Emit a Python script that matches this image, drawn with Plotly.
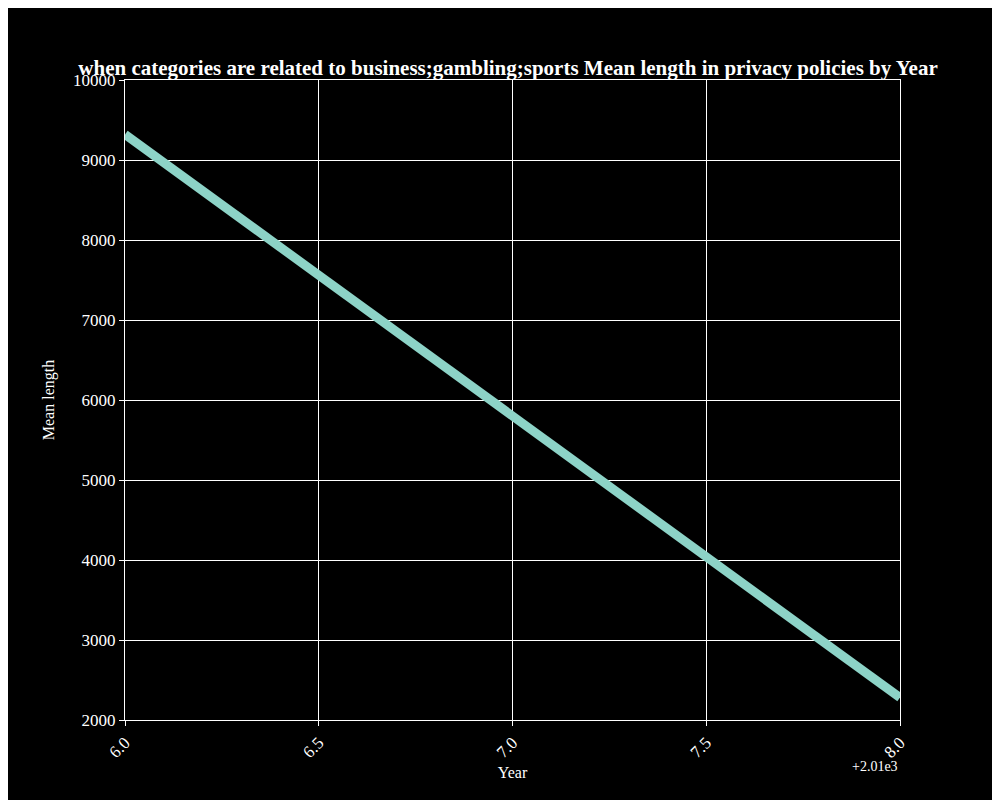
import plotly.graph_objects as go

years = [2016, 2018]
mean_length = [9320, 2280]
x_ticks = [2016.0, 2016.5, 2017.0, 2017.5, 2018.0]
x_tick_text = ["6.0", "6.5", "7.0", "7.5", "8.0"]
y_ticks = [2000, 3000, 4000, 5000, 6000, 7000, 8000, 9000, 10000]
y_tick_text = [str(v) for v in y_ticks]

fig = go.Figure(go.Scatter(x=years, y=mean_length, mode="lines",
                           line=dict(color="#8dd3c7", width=9)))

axis_style = dict(showgrid=True, gridcolor="white", gridwidth=1,
                  showline=True, linecolor="white", linewidth=1, mirror=True,
                  zeroline=False, ticks="outside", tickcolor="white",
                  tickfont=dict(size=17, color="white"))

fig.update_layout(
    width=1000, height=800,
    paper_bgcolor="black", plot_bgcolor="black",
    font=dict(family="Liberation Serif", color="white"),
    title=dict(text="<b>when categories are related to business;gambling;sports Mean length in privacy policies by Year</b>",
               x=0.5, xanchor="center", y=0.925, yanchor="middle",
               font=dict(size=21, color="white")),
    margin=dict(l=117, r=108, t=72, b=88),
    showlegend=False,
    annotations=[dict(text="+2.01e3", xref="paper", yref="paper", x=1, y=-0.058,
                      xanchor="right", yanchor="top", showarrow=False,
                      font=dict(size=14, color="white"))],
)
fig.update_xaxes(range=[2016, 2018], tickvals=x_ticks, ticktext=x_tick_text,
                 tickangle=-45, title=dict(text="Year", font=dict(size=16), standoff=6),
                 **axis_style)
fig.update_yaxes(range=[2000, 10000], tickvals=y_ticks, ticktext=y_tick_text,
                 title=dict(text="Mean length", font=dict(size=16), standoff=14),
                 **axis_style)

fig.write_html("out.html")
